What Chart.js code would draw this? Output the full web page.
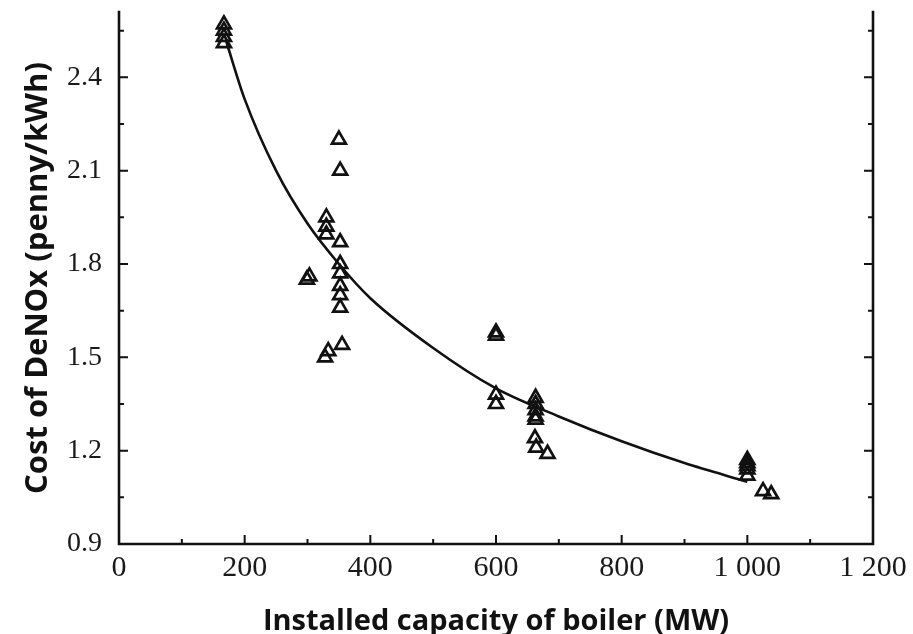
<!DOCTYPE html>
<html>
<head>
<meta charset="utf-8">
<title>Cost of DeNOx vs installed capacity</title>
<script src="https://cdn.jsdelivr.net/npm/chart.js@4.4.0/dist/chart.umd.min.js"></script>
<style>
    html, body { margin: 0; padding: 0; background: #fff; }
    #wrap { width: 913px; height: 634px; position: relative; }
</style>
</head>
<body>
<div id="wrap"><canvas id="denoxChart"></canvas></div>
<script>
// Measured units (open triangles)
const capacityMW = [167, 167, 167, 167,
    299, 303,
    330, 330, 330,
    350, 352, 352, 352, 352, 352, 352, 352,
    328, 333, 355,
    600, 600, 600, 600,
    663, 663, 663, 663, 663, 662, 664, 682,
    1000, 1000, 1000, 1000, 1000, 1025, 1038];
const costPenny = [2.57, 2.55, 2.53, 2.51,
    1.75, 1.76,
    1.95, 1.92, 1.895,
    2.20, 2.10, 1.87, 1.80, 1.77, 1.73, 1.70, 1.66,
    1.50, 1.52, 1.54,
    1.58, 1.57, 1.38, 1.35,
    1.37, 1.35, 1.33, 1.31, 1.30, 1.24, 1.21, 1.19,
    1.17, 1.16, 1.15, 1.14, 1.12, 1.07, 1.06];

// Fitted curve
const fitCapacity = [170, 200, 250, 300, 350, 400, 500, 600, 700, 800, 900, 1000];
const fitCost = [2.52, 2.33, 2.10, 1.93, 1.80, 1.69, 1.53, 1.40, 1.31, 1.23, 1.16, 1.10];

// Axes
const xTicks = [0, 200, 400, 600, 800, 1000, 1200];
const xTickLabels = ['0', '200', '400', '600', '800', '1 000', '1 200'];
const xMinorTicks = [100, 300, 500, 700, 900, 1100];
const yTicks = [0.9, 1.2, 1.5, 1.8, 2.1, 2.4];
const yTickLabels = ['0.9', '1.2', '1.5', '1.8', '2.1', '2.4'];
const yMinorTicks = [1.05, 1.35, 1.65, 1.95, 2.25, 2.55];

const INK = '#111';

/**
 * Frame on left, bottom and right with ticks pointing inward
 */
const frameTicks = {
    id: 'frameTicks',
    beforeDatasetsDraw(chart) {
        const { ctx, chartArea: a, scales: { x, y } } = chart;
        ctx.save();
        ctx.strokeStyle = INK;
        ctx.lineWidth = 2.6;
        ctx.lineCap = 'square';
        ctx.beginPath();
        ctx.moveTo(a.left, a.top);
        ctx.lineTo(a.left, a.bottom);
        ctx.lineTo(a.right, a.bottom);
        ctx.lineTo(a.right, a.top);
        ctx.stroke();

        ctx.lineWidth = 2;
        ctx.lineCap = 'butt';
        ctx.beginPath();
        xTicks.forEach(v => {
            const px = x.getPixelForValue(v);
            ctx.moveTo(px, a.bottom);
            ctx.lineTo(px, a.bottom - 9);
        });
        xMinorTicks.forEach(v => {
            const px = x.getPixelForValue(v);
            ctx.moveTo(px, a.bottom);
            ctx.lineTo(px, a.bottom - 5);
        });
        yTicks.forEach(v => {
            const py = y.getPixelForValue(v);
            ctx.moveTo(a.left, py);
            ctx.lineTo(a.left + 9, py);
            ctx.moveTo(a.right, py);
            ctx.lineTo(a.right - 9, py);
        });
        yMinorTicks.forEach(v => {
            const py = y.getPixelForValue(v);
            ctx.moveTo(a.left, py);
            ctx.lineTo(a.left + 5, py);
            ctx.moveTo(a.right, py);
            ctx.lineTo(a.right - 5, py);
        });
        ctx.stroke();
        ctx.restore();
    }
};

new Chart(document.getElementById('denoxChart'), {
    type: 'scatter',
    data: {
        datasets: [{
            label: 'Measured',
            data: capacityMW.map((c, i) => ({ x: c, y: costPenny[i] })),
            pointStyle: 'triangle',
            pointRadius: 8,
            pointBorderWidth: 2.7,
            borderColor: INK,
            backgroundColor: 'rgba(0, 0, 0, 0)',
            showLine: false
        }, {
            label: 'Fit',
            data: fitCapacity.map((c, i) => ({ x: c, y: fitCost[i] })),
            showLine: true,
            borderColor: INK,
            borderWidth: 2.6,
            pointRadius: 0,
            cubicInterpolationMode: 'monotone',
            fill: false
        }]
    },
    options: {
        responsive: true,
        maintainAspectRatio: false,
        animation: false,
        layout: {
            autoPadding: false,
            padding: { left: 0, right: 40, top: 12, bottom: 0 }
        },
        plugins: {
            legend: { display: false },
            tooltip: { enabled: false }
        },
        scales: {
            x: {
                type: 'linear',
                min: 0,
                max: 1200,
                afterFit(scale) {
                    scale.height = 90;
                    scale.paddingLeft = 0;
                    scale.paddingRight = 0;
                },
                afterBuildTicks(scale) { scale.ticks = xTicks.map(v => ({ value: v })); },
                grid: { display: false },
                border: { display: false },
                ticks: {
                    autoSkip: false,
                    maxRotation: 0,
                    padding: -2,
                    color: '#1a1a1a',
                    font: { family: '"Liberation Serif", serif', size: 30 },
                    callback: v => xTickLabels[xTicks.indexOf(v)]
                },
                title: {
                    display: true,
                    text: 'Installed capacity of boiler (MW)',
                    color: INK,
                    font: { family: '"Open Sans", sans-serif', size: 29, weight: 'bold' },
                    padding: { top: 0, bottom: -5 }
                }
            },
            y: {
                type: 'linear',
                min: 0.9,
                max: 2.61,
                afterFit(scale) {
                    scale.width = 119;
                    scale.paddingTop = 0;
                    scale.paddingBottom = 0;
                },
                afterBuildTicks(scale) { scale.ticks = yTicks.map(v => ({ value: v })); },
                grid: { display: false },
                border: { display: false },
                ticks: {
                    padding: 9,
                    color: '#1a1a1a',
                    font: { family: '"Liberation Serif", serif', size: 28 },
                    callback: v => yTickLabels[yTicks.indexOf(v)]
                },
                title: {
                    display: true,
                    text: 'Cost of DeNOx (penny/kWh)',
                    color: INK,
                    font: { family: '"Open Sans", sans-serif', size: 31, weight: 'bold' },
                    padding: { top: 20, bottom: 0 }
                }
            }
        }
    },
    plugins: [frameTicks]
});
</script>
</body>
</html>
